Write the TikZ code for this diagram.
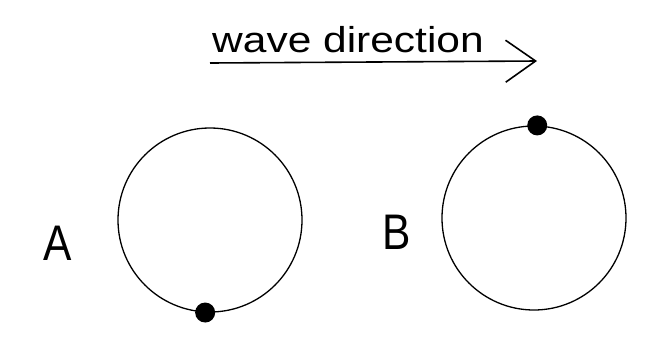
\documentclass[tikz,border=0pt]{standalone}
\usepackage{fontspec}
\setmainfont{Liberation Sans}
\usetikzlibrary{arrows.meta}
\begin{document}
\begin{tikzpicture}[x=1pt,y=-1pt,
  ring/.style={circle,draw,line width=1.3pt,minimum size=184pt,inner sep=0pt},
  bead/.style={circle,fill=black,minimum size=20pt,inner sep=0pt},
  lbl/.style={font=\fontsize{50}{50}\selectfont,inner sep=0pt},
  arr/.style={line width=1.6pt,-{Straight Barb[length=30pt,width=42pt,line width=1.6pt]}}]
\useasboundingbox (0,0) rectangle (670,341);
\fill[white] (0,0) rectangle (670,341);
\node[ring] (ca) at (210,220) {};
\node[ring] (cb) at (534,218) {};
\node[bead] (da) at (ca.-93) {};
\node[bead] (db) at (cb.88) {};
\node[lbl,xscale=0.85] (la) at (58,243) {A};
\node[lbl,xscale=0.85] (lb) at (397,232) {B};
\coordinate (s) at (210,63);
\coordinate (e) at (537,61);
\draw[arr] (s) -- (e);
\node[font=\fontsize{36}{36}\selectfont,anchor=base west,inner sep=0pt,xscale=1.18] (t) at (212,52) {wave direction};
\end{tikzpicture}
\end{document}
